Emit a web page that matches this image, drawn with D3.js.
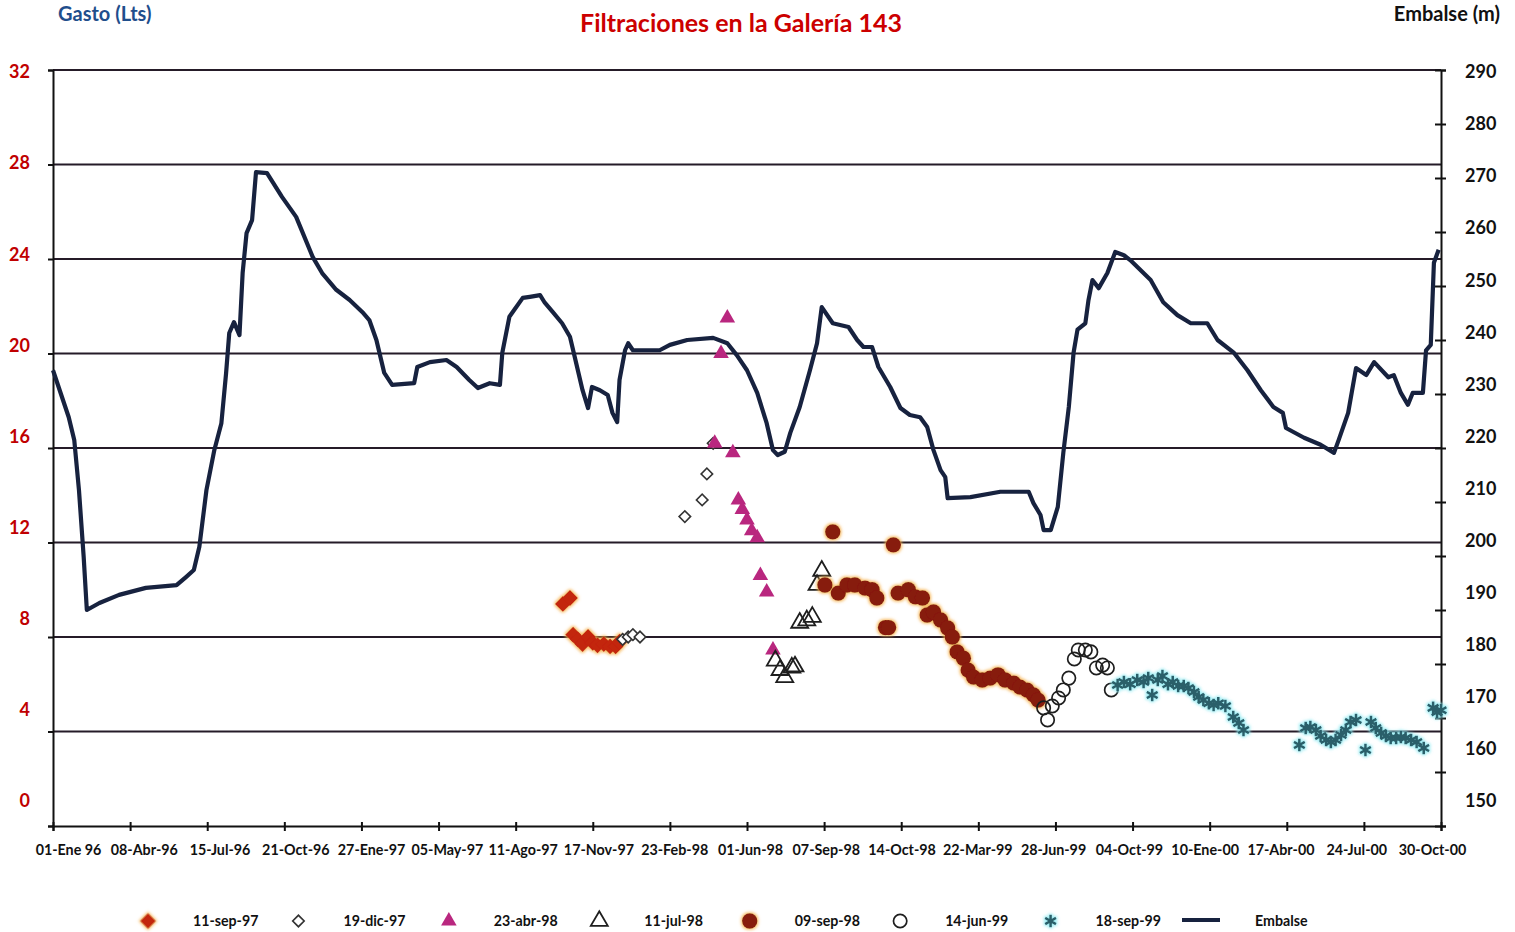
<!DOCTYPE html>
<html><head><meta charset="utf-8">
<script src="https://cdn.jsdelivr.net/npm/d3@7"></script>
<style>
body{margin:0;background:#fff;}
svg{display:block;font-family:Lato,"Open Sans",sans-serif;font-weight:bold;}
</style></head><body>
<svg id="chart" width="1515" height="932"></svg>
<script>
// ---------- DATA ----------
const tickDates = ["1996-01-01","1996-04-08","1996-07-15","1996-10-21","1997-01-27","1997-05-05","1997-08-11","1997-11-17","1998-02-23","1998-06-01","1998-09-07","1998-12-14","1999-03-22","1999-06-28","1999-10-04","2000-01-10","2000-04-17","2000-07-24","2000-10-30"];
const tickLabels = ["01-Ene 96","08-Abr-96","15-Jul-96","21-Oct-96","27-Ene-97","05-May-97","11-Ago-97","17-Nov-97","23-Feb-98","01-Jun-98","07-Sep-98","14-Oct-98","22-Mar-99","28-Jun-99","04-Oct-99","10-Ene-00","17-Abr-00","24-Jul-00","30-Oct-00"];
const gastoTicks = [0,4,8,12,16,20,24,28,32];
const embalseTicks = [150,160,170,180,190,200,210,220,230,240,250,260,270,280,290];

// Embalse (m) - reservoir level
const embalse = [
["1996-01-01",234.4],["1996-01-21",225.7],["1996-01-28",221.5],["1996-02-03",212.2],["1996-02-09",199.8],["1996-02-13",190.0],
["1996-02-29",191.3],["1996-03-25",192.8],["1996-04-28",194.1],["1996-06-06",194.6],["1996-06-18",196.1],["1996-06-28",197.4],
["1996-07-05",201.7],["1996-07-14",212.2],["1996-07-24",219.6],["1996-08-02",224.6],["1996-08-08",233.9],["1996-08-12",241.3],
["1996-08-18",243.3],["1996-08-25",240.9],["1996-08-29",252.4],["1996-09-03",259.8],["1996-09-10",262.2],["1996-09-15",271.1],
["1996-09-29",270.9],["1996-10-18",266.5],["1996-11-05",262.8],["1996-11-26",255.4],["1996-12-08",252.4],["1996-12-26",249.3],
["1997-01-12",247.4],["1997-01-28",245.2],["1997-02-06",243.7],["1997-02-15",240.0],["1997-02-25",233.9],["1997-03-07",231.7],
["1997-04-04",232.0],["1997-04-08",235.0],["1997-04-24",235.9],["1997-05-15",236.3],["1997-05-28",235.0],["1997-06-13",232.6],
["1997-06-24",231.1],["1997-07-09",232.0],["1997-07-22",231.7],["1997-07-25",237.6],["1997-08-03",244.3],["1997-08-20",247.8],
["1997-08-29",248.0],["1997-09-11",248.3],["1997-09-17",246.9],["1997-09-27",245.2],["1997-10-09",243.1],["1997-10-19",240.6],
["1997-10-25",236.9],["1997-11-04",230.7],["1997-11-11",227.4],["1997-11-16",231.3],["1997-11-26",230.7],["1997-12-06",229.8],
["1997-12-12",226.5],["1997-12-18",224.8],["1997-12-21",232.6],["1997-12-28",238.1],["1998-01-01",239.4],["1998-01-07",238.1],
["1998-02-10",238.1],["1998-02-23",239.1],["1998-03-17",240.0],["1998-04-19",240.4],["1998-05-07",239.4],["1998-05-19",237.2],
["1998-06-01",234.4],["1998-06-14",230.2],["1998-06-26",224.6],["1998-07-04",219.6],["1998-07-10",218.7],["1998-07-19",219.3],
["1998-07-26",222.8],["1998-08-07",227.6],["1998-08-20",234.4],["1998-08-29",239.4],["1998-09-04",246.1],["1998-09-18",243.1],
["1998-10-08",242.4],["1998-10-19",240.0],["1998-10-27",238.7],["1998-11-07",238.7],["1998-11-15",235.0],["1998-11-30",231.3],
["1998-12-13",227.4],["1998-12-25",226.1],["1999-01-07",225.7],["1999-01-16",223.9],["1999-01-24",219.6],["1999-02-02",215.9],
["1999-02-08",214.6],["1999-02-11",210.7],["1999-03-12",210.9],["1999-04-19",211.9],["1999-05-25",211.9],["1999-05-31",209.8],
["1999-06-09",207.6],["1999-06-13",204.8],["1999-06-22",204.8],["1999-07-01",209.1],["1999-07-08",219.1],["1999-07-15",227.6],
["1999-07-21",237.6],["1999-07-26",241.9],["1999-08-05",243.1],["1999-08-09",247.4],["1999-08-14",251.1],["1999-08-22",249.6],
["1999-09-02",252.4],["1999-09-12",256.3],["1999-09-23",255.7],["1999-10-01",254.8],["1999-10-27",251.1],["1999-11-12",247.0],
["1999-11-30",244.6],["1999-12-17",243.1],["2000-01-07",243.1],["2000-01-20",240.0],["2000-02-10",237.6],["2000-02-27",234.4],
["2000-03-15",230.7],["2000-03-31",227.6],["2000-04-12",226.5],["2000-04-16",223.7],["2000-05-09",221.9],["2000-05-30",220.6],
["2000-06-16",219.1],["2000-06-22",221.5],["2000-07-04",226.5],["2000-07-14",234.8],["2000-07-27",233.5],["2000-08-06",235.9],
["2000-08-24",233.1],["2000-08-31",233.5],["2000-09-09",230.2],["2000-09-18",228.0],["2000-09-24",230.2],["2000-10-07",230.2],
["2000-10-11",238.1],["2000-10-17",239.1],["2000-10-21",254.3],["2000-10-27",256.7]
];

// Gasto (Lts) - seepage measurements, one array per campaign
const sep97 = [["1997-10-10",9.4],["1997-10-19",9.65],["1997-10-23",8.1],["1997-10-29",7.9],["1997-11-04",7.7],["1997-11-11",8.0],
["1997-11-17",7.75],["1997-11-23",7.65],["1997-12-01",7.7],["1997-12-09",7.6],["1997-12-16",7.6],["1997-12-21",7.8]];
const dic97 = [["1997-12-25",7.9],["1998-01-01",8.0],["1998-01-07",8.1],["1998-01-16",8.0],
["1998-03-14",13.1],["1998-04-05",13.8],["1998-04-11",14.9],["1998-04-19",16.2]];
const abr98 = [["1998-04-21",16.2],["1998-04-29",20.0],["1998-05-07",21.5],["1998-05-14",15.8],["1998-05-21",13.8],["1998-05-26",13.4],
["1998-06-01",12.95],["1998-06-07",12.5],["1998-06-14",12.2],["1998-06-18",10.6],["1998-06-26",9.9],["1998-07-04",7.45]];
const jul98 = [["1998-07-07",7.0],["1998-07-13",6.6],["1998-07-19",6.3],["1998-07-28",6.7],["1998-08-01",6.75],["1998-08-07",8.6],
["1998-08-16",8.7],["1998-08-23",8.85],["1998-08-29",10.2],["1998-09-04",10.8]];
const sep98 = [["1998-09-08",10.2],["1998-09-18",12.45],["1998-09-25",9.86],["1998-10-06",10.2],["1998-10-16",10.2],["1998-10-29",10.07],
["1998-11-07",10.0],["1998-11-13",9.65],["1998-11-24",8.4],["1998-11-28",8.4],["1998-12-04",11.9],["1998-12-10",9.86],["1998-12-23",10.0],
["1999-01-01",9.7],["1999-01-10",9.65],["1999-01-16",8.93],["1999-01-24",9.06],["1999-02-02",8.72],["1999-02-11",8.38],
["1999-02-17",8.0],["1999-02-23",7.37],["1999-03-03",7.1],["1999-03-09",6.6],["1999-03-16",6.3],["1999-03-27",6.18],
["1999-04-06",6.26],["1999-04-16",6.4],["1999-04-25",6.18],["1999-05-06",6.05],["1999-05-14",5.88],["1999-05-23",5.75],
["1999-05-31",5.55],["1999-06-06",5.33]];
const jun99 = [["1999-06-13",5.0],["1999-06-18",4.49],["1999-06-24",5.08],["1999-07-02",5.42],["1999-07-08",5.76],["1999-07-15",6.26],
["1999-07-22",7.07],["1999-07-27",7.45],["1999-08-05",7.45],["1999-08-12",7.37],["1999-08-19",6.69],["1999-08-27",6.81],
["1999-09-02",6.69],["1999-09-07",5.76]];
const sep99 = [["1999-09-15",5.97],["1999-09-23",6.1],["1999-10-01",6.0],["1999-10-10",6.18],["1999-10-18",6.1],["1999-10-24",6.26],
["1999-10-29",5.55],["1999-11-05",6.18],["1999-11-11",6.35],["1999-11-18",6.0],["1999-11-24",6.1],["1999-12-01",5.93],
["1999-12-08",5.93],["1999-12-14",5.84],["1999-12-21",5.67],["1999-12-27",5.46],["2000-01-02",5.33],["2000-01-09",5.2],
["2000-01-15",5.12],["2000-01-21",5.2],["2000-01-30",5.08],["2000-02-09",4.61],["2000-02-16",4.36],["2000-02-22",4.06],
["2000-05-03",3.43],["2000-05-11",4.15],["2000-05-17",4.19],["2000-05-24",4.06],["2000-05-30",3.81],["2000-06-06",3.64],
["2000-06-12",3.56],["2000-06-18",3.64],["2000-06-25",3.85],["2000-07-01",4.06],["2000-07-07",4.4],["2000-07-14",4.49],
["2000-07-26",3.22],["2000-08-02",4.4],["2000-08-08",4.15],["2000-08-15",3.94],["2000-08-21",3.81],["2000-08-27",3.72],
["2000-09-03",3.72],["2000-09-09",3.77],["2000-09-15",3.72],["2000-09-22",3.64],["2000-09-29",3.56],["2000-10-08",3.3],
["2000-10-20",5.0],["2000-10-25",4.82],["2000-10-30",4.9]];

const seriesNames = ["11-sep-97","19-dic-97","23-abr-98","11-jul-98","09-sep-98","14-jun-99","18-sep-99"];
const lineName = "Embalse";

// ---------- CHART ----------
const svg = d3.select("#chart");
const M = {left:53, right:1441, top:70, bottom:826};
const parse = d3.utcParse("%Y-%m-%d");
const FONT = "Lato, 'Open Sans', sans-serif";

const x = d3.scaleUtc().domain([parse(tickDates[0]), parse(tickDates[tickDates.length-1])]).range([M.left, M.right]);
const yL = d3.scaleLinear().domain([0,32]).range([M.bottom, M.top]);
const yR = d3.scaleLinear().domain([150,290]).range([M.bottom, M.top]);
// tick labels in the scanned original sit slightly off the tick marks
const yLlab = d3.scaleLinear().domain([0,32]).range([801,72]);
const yRlab = d3.scaleLinear().domain([150,290]).range([801,72]);
const xLab = d3.scalePoint().domain(tickLabels).range([68,1432]);

const defs = svg.append("defs");
function glow(id, color, r, sd){
  const f = defs.append("filter").attr("id",id).attr("x","-60%").attr("y","-60%").attr("width","220%").attr("height","220%");
  f.append("feMorphology").attr("in","SourceAlpha").attr("operator","dilate").attr("radius",r).attr("result","d");
  f.append("feGaussianBlur").attr("in","d").attr("stdDeviation",sd).attr("result","b");
  f.append("feFlood").attr("flood-color",color).attr("flood-opacity",0.85);
  f.append("feComposite").attr("in2","b").attr("operator","in").attr("result","g");
  const mg = f.append("feMerge");
  mg.append("feMergeNode").attr("in","g");
  mg.append("feMergeNode").attr("in","SourceGraphic");
}
glow("gOrange","#f6b04a",1.2,1.6);
glow("gCyan","#8eeaf2",1.2,1.6);

// gridlines
svg.append("g").selectAll("line").data(gastoTicks.filter(d=>d>0)).join("line")
  .attr("x1",M.left).attr("x2",M.right).attr("y1",d=>yL(d)).attr("y2",d=>yL(d))
  .attr("stroke","#251b28").attr("stroke-width",2);

// left axis: tick marks + labels
svg.append("g").attr("transform",`translate(${M.left},0)`)
  .call(d3.axisLeft(yL).tickValues(gastoTicks).tickSize(5).tickFormat(""))
  .call(g=>{g.select(".domain").attr("stroke","#111").attr("stroke-width",2);g.selectAll("line").attr("stroke","#111").attr("stroke-width",2);});
svg.append("g").attr("transform",`translate(30,0)`)
  .call(d3.axisLeft(yLlab).tickValues(gastoTicks).tickSize(0).tickPadding(0))
  .call(g=>{g.select(".domain").remove();g.selectAll("text").attr("fill","#c00000").attr("font-size",18).attr("font-weight","bold").attr("font-family",FONT);});

// right axis
svg.append("g").attr("transform",`translate(${M.right},0)`)
  .call(d3.axisRight(yR).tickValues(embalseTicks).tickSize(5).tickFormat(""))
  .call(g=>{g.select(".domain").attr("stroke","#111").attr("stroke-width",2);g.selectAll(".tick line").attr("x1",-6).attr("stroke","#111").attr("stroke-width",2);});
svg.append("g").attr("transform",`translate(1465,0)`)
  .call(d3.axisRight(yRlab).tickValues(embalseTicks).tickSize(0).tickPadding(0))
  .call(g=>{g.select(".domain").remove();g.selectAll("text").attr("fill","#111").attr("font-size",18).attr("font-weight","bold").attr("font-family",FONT);});

// bottom axis: tick marks
svg.append("g").attr("transform",`translate(0,${M.bottom})`)
  .call(d3.axisBottom(x).tickValues(tickDates.map(parse)).tickSize(5).tickFormat(""))
  .call(g=>{g.select(".domain").attr("stroke","#111").attr("stroke-width",2);
    g.selectAll(".tick line").attr("y1",-4).attr("stroke","#111").attr("stroke-width",2);});
// bottom axis: labels (evenly spread as in the original)
svg.append("g").attr("transform",`translate(0,${M.bottom})`)
  .call(d3.axisBottom(xLab).tickSize(0).tickPadding(19))
  .call(g=>{g.select(".domain").remove();
    g.selectAll("text").attr("fill","#111").attr("font-size",14.3).attr("font-weight","bold").attr("font-family",FONT);});

// Embalse line
svg.append("path").datum(embalse)
  .attr("d", d3.line().x(d=>x(parse(d[0]))).y(d=>yR(d[1])))
  .attr("fill","none").attr("stroke","#17223f").attr("stroke-width",4.2).attr("stroke-linejoin","round");

// marker styles
const styles = [
  {sym:d3.symbolSquare, size:125, rot:45, fill:"#c3250f", stroke:"none", sw:0, filter:"url(#gOrange)"},
  {sym:d3.symbolSquare, size:66, rot:45, fill:"#fff", stroke:"#333", sw:1.6, filter:null},
  {sym:d3.symbolTriangle, size:105, rot:0, fill:"#b9277f", stroke:"none", sw:0, filter:null},
  {sym:d3.symbolTriangle, size:125, rot:0, fill:"none", stroke:"#1e1e1e", sw:1.8, filter:null},
  {sym:d3.symbolCircle, size:185, rot:0, fill:"#871a10", stroke:"none", sw:0, filter:"url(#gOrange)"},
  {sym:d3.symbolCircle, size:140, rot:0, fill:"none", stroke:"#1e1e1e", sw:1.7, filter:null},
  {sym:d3.symbolAsterisk, size:110, rot:0, fill:"none", stroke:"#2a5f6a", sw:2.6, filter:"url(#gCyan)"}
];
const allSeries = [sep97, dic97, abr98, jul98, sep98, jun99, sep99];

allSeries.forEach((data,i)=>{
  const st = styles[i];
  svg.append("g").attr("filter",st.filter).selectAll("path").data(data).join("path")
    .attr("transform",d=>`translate(${x(parse(d[0]))},${yL(d[1])}) rotate(${st.rot})`)
    .attr("d", d3.symbol().type(st.sym).size(st.size)())
    .attr("fill",st.fill).attr("stroke",st.stroke).attr("stroke-width",st.sw);
});

// titles
svg.append("text").attr("x",58).attr("y",21).attr("fill","#1f4e8c").attr("font-size",20).attr("font-family",FONT).text("Gasto (Lts)");
svg.append("text").attr("x",741).attr("y",32).attr("text-anchor","middle").attr("fill","#cc0000").attr("font-size",25).attr("font-family",FONT).text("Filtraciones en la Galería 143");
svg.append("text").attr("x",1500).attr("y",21).attr("text-anchor","end").attr("fill","#111").attr("font-size",20).attr("font-family",FONT).text("Embalse (m)");

// legend
const legendItems = seriesNames.concat([lineName]);
const lx = d3.scalePoint().domain(legendItems).range([148,1201]);
const ly = 921;
const lg = svg.append("g");
legendItems.forEach((name,i)=>{
  const cx = lx(name);
  if(i < styles.length){
    const st = styles[i];
    lg.append("path").attr("filter",st.filter)
      .attr("transform",`translate(${cx},${ly}) rotate(${st.rot})`)
      .attr("d", d3.symbol().type(st.sym).size(st.size)())
      .attr("fill",st.fill).attr("stroke",st.stroke).attr("stroke-width",st.sw);
    lg.append("text").attr("x",cx+45).attr("y",ly+5).attr("font-size",14.2).attr("fill","#111").attr("font-family",FONT).text(name);
  } else {
    lg.append("line").attr("x1",cx-19).attr("x2",cx+19).attr("y1",ly-1).attr("y2",ly-1).attr("stroke","#17223f").attr("stroke-width",4.2);
    lg.append("text").attr("x",cx+54).attr("y",ly+5).attr("font-size",14.2).attr("fill","#111").attr("font-family",FONT).text(name);
  }
});
</script>
</body></html>
